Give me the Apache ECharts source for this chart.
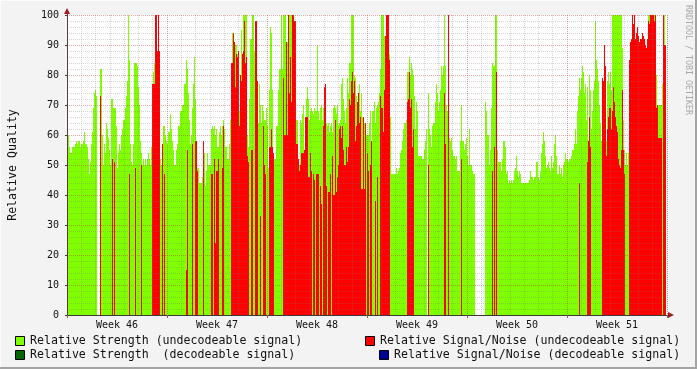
<!DOCTYPE html>
<html>
<head>
<meta charset="utf-8">
<script src="https://cdn.jsdelivr.net/npm/echarts@6/dist/echarts.min.js"></script>
<style>
html,body{margin:0;padding:0;background:#f3f3f3;}
#chart{width:697px;height:369px;}
</style>
</head>
<body>
<div id="chart"></div>
<script>
const N = null;
// X-axis tick labels (centered in each week) and hidden daily slots
const weekLabels = ['Week 46', 'Week 47', 'Week 48', 'Week 49', 'Week 50', 'Week 51'];
const dayNames = ['Mon', 'Tue', 'Wed', 'Thu', 'Fri', 'Sat', 'Sun'];
const yAxisTitle = 'Relative Quality';
const watermark = 'RRDTOOL / TOBI OETIKER';
const legendLabels = [
  'Relative Strength (undecodeable signal)',
  'Relative Signal/Noise (undecodeable signal)',
  'Relative Strength  (decodeable signal)',
  'Relative Signal/Noise (decodeable signal)'
];

// Relative Strength (undecodeable signal), one sample per time slot
const strengthUndecodeable = [
  60,60,56,54,54,56,56,56,57,58,
  57,58,58,56,57,57,58,61,57,57,
  56,52,47,51,57,61,69,74,75,73,
  N,N,N,82,82,60,50,57,54,64,
  62,59,55,50,72,72,69,69,69,63,
  49,54,57,55,60,62,65,65,69,73,
  78,100,85,57,51,50,57,84,84,84,
  83,76,70,58,54,50,52,50,52,50,
  52,54,52,50,56,77,81,84,100,100,
  88,100,88,52,50,52,63,63,60,58,
  57,61,61,67,62,58,55,50,50,55,
  57,63,63,68,68,70,70,77,77,85,
  82,74,65,57,60,69,77,86,72,58,
  49,49,44,44,44,46,53,54,43,48,
  54,50,50,50,62,63,62,63,60,62,
  56,56,61,63,60,63,65,62,56,56,
  52,52,57,65,84,94,94,91,90,90,
  87,88,68,80,95,87,100,100,100,100,
  60,56,72,92,92,100,100,88,98,98,
  78,64,77,70,64,70,68,65,65,69,
  63,49,75,96,94,75,54,52,52,63,
  63,75,82,82,100,82,100,100,100,91,
  91,100,100,100,100,100,100,98,98,65,
  65,52,50,65,64,67,70,55,66,72,
  76,72,65,68,69,68,67,69,68,68,
  90,68,65,69,70,65,69,64,66,64,
  63,64,61,63,64,61,69,70,69,67,
  70,63,64,65,77,79,72,68,64,69,
  79,74,84,84,100,100,100,80,79,73,
  70,72,77,68,74,66,65,64,64,60,
  60,60,64,68,58,68,68,71,64,69,
  70,71,74,82,100,100,100,93,93,100,
  100,100,87,66,47,47,47,47,47,49,
  47,48,49,54,55,58,62,64,64,65,
  81,81,86,80,84,82,80,73,62,71,
  68,53,53,53,53,52,52,55,58,62,
  N,74,62,60,56,63,64,64,71,77,
  74,68,71,75,83,80,83,100,83,70,
  68,68,59,58,59,55,53,53,52,53,
  48,48,48,58,70,58,58,55,57,59,
  53,50,62,50,50,48,47,47,N,N,
  N,N,N,N,N,N,N,N,71,68,
  60,60,50,55,69,84,83,83,100,100,
  55,51,51,51,48,52,58,58,56,47,
  48,44,45,44,45,44,45,48,49,53,
  48,46,48,47,44,44,44,44,44,44,
  44,44,45,48,46,46,45,46,46,51,
  51,46,45,48,54,57,61,58,53,49,
  50,51,49,48,53,49,51,57,60,53,
  47,47,50,47,49,46,50,51,54,52,
  52,51,52,52,53,55,55,57,62,57,
  68,73,79,75,79,83,81,74,77,65,
  76,52,80,75,62,68,75,78,98,85,
  82,78,70,64,58,79,78,90,83,58,
  78,81,77,81,75,100,100,100,100,100,
  100,100,100,100,100,89,65,55,50,54,
  50,54,85,91,92,100,97,100,92,94,
  96,93,91,92,92,94,93,92,90,89,
  92,100,100,100,100,100,100,100,100,80,
  70,70,70,70,70,77,100,100,90,N
];

// Relative Signal/Noise (undecodeable signal), one sample per time slot
const snrUndecodeable = [
  N,N,N,N,N,N,N,N,N,N,
  N,N,N,N,N,N,N,N,N,N,
  N,N,N,N,N,N,N,N,N,N,
  N,N,N,73,N,N,N,N,N,N,
  N,N,N,N,N,52,N,51,N,N,
  N,N,N,N,N,N,N,N,N,N,
  N,N,47,N,N,N,N,N,49,N,
  N,N,N,N,50,N,N,N,N,N,
  N,N,N,N,N,77,77,77,100,100,
  88,100,88,N,N,57,N,47,N,N,
  N,N,N,N,N,N,N,N,N,N,
  N,N,N,N,N,N,N,N,N,15,
  55,N,N,N,N,57,N,N,58,58,
  48,N,N,N,N,N,58,N,N,N,
  N,N,N,N,47,47,N,52,24,48,
  48,52,N,N,N,49,63,N,N,N,
  N,N,N,N,84,84,94,91,76,87,
  86,88,63,80,78,87,88,98,84,86,
  53,51,N,N,55,55,N,N,98,98,
  78,N,N,33,N,N,63,50,47,N,
  N,N,56,56,62,56,54,N,N,N,
  N,N,N,N,N,N,79,60,60,91,
  60,100,74,86,71,100,100,98,98,57,
  57,52,48,50,54,54,54,55,66,66,
  66,46,46,54,48,N,47,45,N,47,
  47,47,N,43,37,N,63,76,77,43,
  N,41,41,47,N,53,40,40,65,41,
  46,50,62,63,59,63,55,50,50,56,
  51,56,72,70,78,81,74,78,58,63,
  71,74,64,66,42,42,66,42,64,N,
  54,48,N,50,58,N,N,N,38,N,
  46,N,N,73,69,69,61,75,93,100,
  100,100,85,N,N,N,N,N,N,N,
  N,N,N,N,N,N,N,N,N,N,
  71,72,81,69,72,56,62,N,N,N,
  N,N,N,N,N,N,N,N,N,N,
  N,50,N,N,N,N,N,N,N,N,
  N,N,N,N,N,N,N,74,57,N,
  N,100,N,N,N,N,N,N,N,N,
  N,N,N,N,52,N,N,N,N,N,
  N,N,N,N,N,N,N,N,N,N,
  N,N,N,N,N,N,N,N,N,N,
  N,N,N,N,N,48,N,56,N,81,
  N,N,N,N,N,N,N,N,N,N,
  N,N,N,N,N,N,N,N,N,N,
  N,N,N,N,N,N,N,N,N,N,
  N,N,N,N,N,N,N,N,N,N,
  N,N,N,N,N,N,N,N,N,N,
  N,N,N,N,N,N,N,N,N,N,
  N,N,N,N,N,N,N,N,N,N,
  N,N,N,N,N,N,N,N,N,N,
  N,N,44,N,N,N,N,N,N,N,
  51,58,66,56,N,N,N,N,N,N,
  N,N,N,N,N,79,78,90,83,53,
  62,66,69,69,62,68,76,71,66,63,
  61,52,50,49,55,75,55,47,N,N,
  N,N,85,91,92,100,97,100,92,94,
  96,93,91,92,92,94,93,92,90,89,
  92,98,97,100,100,100,100,98,100,69,
  70,59,59,59,59,N,100,90,90,N
];

const slots = strengthUndecodeable.map((_, i) => String(i));
const days = weekLabels.flatMap(w => dayNames.map(d => w + ' ' + d));

const C = {
  green: '#7fff00', red: '#ff0000', darkGreen: '#006400', blue: '#000099',
  text: '#111111', axis: '#3a3a3a', major: 'rgba(190,60,60,0.45)', minor: 'rgba(120,120,120,0.32)',
  arrow: '#a01c1c', bg: '#f3f3f3'
};
const MONO = '"DejaVu Sans Mono", "Liberation Mono", monospace';
const legendColors = [C.green, C.red, C.darkGreen, C.blue];
const legendPos = [[15, 336, 30], [365, 336, 380], [15, 350, 30], [379, 350, 394]];

const chart = echarts.init(document.getElementById('chart'), null, {renderer: 'canvas'});

const graphics = [];
legendLabels.forEach((label, k) => {
  const [sx, sy, tx] = legendPos[k];
  graphics.push({type: 'rect', shape: {x: sx + 0.5, y: sy + 0.5, width: 9, height: 9},
    style: {fill: legendColors[k], stroke: '#000', lineWidth: 1}, silent: true});
  graphics.push({type: 'text', x: tx, y: sy + 5,
    style: {text: label, fill: C.text, font: '11.6px ' + MONO, align: 'left', verticalAlign: 'middle'}, silent: true});
});
graphics.push({type: 'text', x: 688, y: 5, rotation: -Math.PI / 2,
  style: {text: watermark, fill: '#a8a8a8', font: '8.3px ' + MONO, align: 'left', verticalAlign: 'middle'}, silent: true});
graphics.push({type: 'polygon', shape: {points: [[64, 14], [70, 14], [67, 8]]}, style: {fill: C.arrow}, silent: true});
graphics.push({type: 'polygon', shape: {points: [[668, 312], [668, 318], [674, 315]]}, style: {fill: C.arrow}, silent: true});
graphics.push({type: 'line', shape: {x1: 67.5, y1: 14, x2: 67.5, y2: 15}, style: {stroke: C.axis, lineWidth: 1}, silent: true});
graphics.push({type: 'line', shape: {x1: 667, y1: 315.5, x2: 668, y2: 315.5}, style: {stroke: C.axis, lineWidth: 1}, silent: true});
graphics.push({type: 'line', shape: {x1: 0, y1: 0.5, x2: 697, y2: 0.5}, style: {stroke: '#fcfcfc', lineWidth: 1}, silent: true});
graphics.push({type: 'line', shape: {x1: 0.5, y1: 0, x2: 0.5, y2: 369}, style: {stroke: '#fcfcfc', lineWidth: 1}, silent: true});
graphics.push({type: 'line', shape: {x1: 0, y1: 368, x2: 697, y2: 368}, style: {stroke: '#a4a4a4', lineWidth: 2}, silent: true});
graphics.push({type: 'line', shape: {x1: 696, y1: 0, x2: 696, y2: 369}, style: {stroke: '#a4a4a4', lineWidth: 2}, silent: true});

chart.setOption({
  animation: false,
  backgroundColor: C.bg,
  grid: {left: 67, top: 15, width: 600, height: 300, show: true, backgroundColor: '#ffffff', borderWidth: 0,
    containLabel: false, outerBoundsMode: 'none'},
  xAxis: [
    {type: 'category', data: slots, show: false, boundaryGap: true},
    {type: 'category', data: weekLabels, boundaryGap: true, position: 'bottom', z: 6,
      axisLine: {show: true, lineStyle: {color: C.axis, width: 1}},
      axisTick: {show: true, interval: 0, length: 3, lineStyle: {color: '#a05050'}},
      axisLabel: {show: true, interval: 0, margin: 5, color: C.text, fontFamily: MONO, fontSize: 10},
      splitLine: {show: true, interval: 0, lineStyle: {color: C.major, type: [1, 1], width: 1}}},
    {type: 'category', data: days, boundaryGap: true, position: 'bottom', z: 4,
      axisLine: {show: false}, axisTick: {show: false}, axisLabel: {show: false},
      splitLine: {show: true, interval: (i) => i % 7 !== 0, lineStyle: {color: C.minor, type: [1, 1], width: 1}}}
  ],
  yAxis: {
    type: 'value', min: 0, max: 100, interval: 10, z: 5,
    name: yAxisTitle, nameLocation: 'middle', nameGap: 48, nameRotate: 90,
    nameTextStyle: {color: C.text, fontFamily: MONO, fontSize: 11.6},
    axisLine: {show: true, lineStyle: {color: C.axis, width: 1}},
    axisTick: {show: true, length: 2, lineStyle: {color: C.axis}},
    axisLabel: {color: C.text, fontFamily: MONO, fontSize: 10, margin: 8},
    splitLine: {show: true, lineStyle: {color: C.major, type: [1, 1], width: 1}},
    minorTick: {show: false, splitNumber: 5},
    minorSplitLine: {show: true, lineStyle: {color: C.minor, type: [1, 1], width: 1}}
  },
  series: [
    {type: 'bar', name: legendLabels[0], data: strengthUndecodeable, xAxisIndex: 0, yAxisIndex: 0,
      barWidth: '100%', barGap: '-100%', barCategoryGap: '0%', z: 2, silent: true,
      itemStyle: {color: C.green}},
    {type: 'bar', name: legendLabels[1], data: snrUndecodeable, xAxisIndex: 0, yAxisIndex: 0,
      barWidth: '100%', barGap: '-100%', barCategoryGap: '0%', z: 3, silent: true,
      itemStyle: {color: C.red}}
  ],
  graphic: graphics
});
</script>
</body>
</html>
